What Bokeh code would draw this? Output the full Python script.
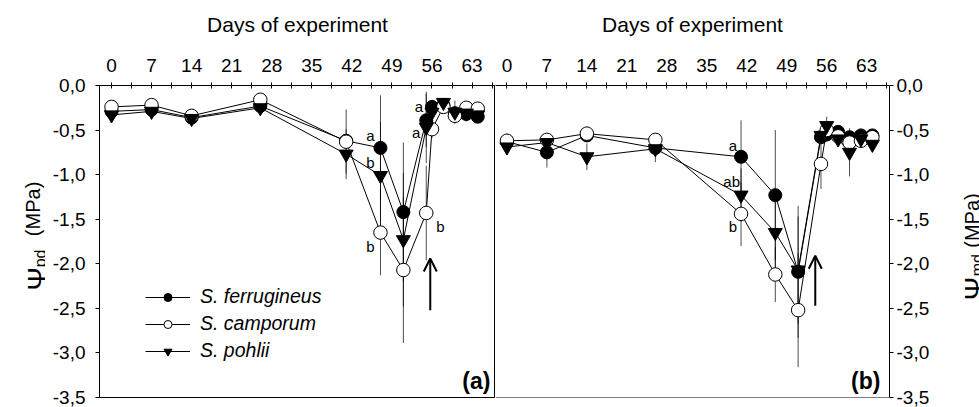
import numpy as np
from bokeh.plotting import figure
from bokeh.layouts import row
from bokeh.core.properties import value
from bokeh.models import (Range1d, FixedTicker, CustomJSTickFormatter, Legend, LegendItem,
                          Label, Arrow, OpenHead, Span)
from bokeh.embed import file_html
from bokeh.resources import INLINE

# ---------------- data ----------------
days = [0, 7, 14, 26, 41, 47, 51, 55, 56, 58, 60, 62, 64]

# pre-dawn water potential (panel a)
ferr_pd = [-0.29, -0.27, -0.36, -0.23, -0.62, -0.70, -1.42, -0.39, -0.24, -0.22, -0.31, -0.32, -0.35]
camp_pd = [-0.24, -0.22, -0.34, -0.16, -0.63, -1.65, -2.07, -1.43, -0.49, -0.24, -0.34, -0.25, -0.26]
pohl_pd = [-0.33, -0.29, -0.37, -0.25, -0.77, -1.01, -1.73, -0.47, -0.30, -0.19, -0.30, -0.31, -0.33]
ferr_pd_err = [0.04, 0.04, 0.03, 0.04, 0.05, 0.59, 0.78, 0.30, 0.08, 0.05, 0.05, 0.04, 0.04]
camp_pd_err = [0.04, 0.05, 0.05, 0.04, 0.36, 0.48, 0.82, 0.53, 0.10, 0.05, 0.06, 0.04, 0.04]
pohl_pd_err = [0.04, 0.08, 0.04, 0.04, 0.28, 0.60, 0.75, 0.40, 0.06, 0.05, 0.13, 0.05, 0.05]

# midday water potential (panel b)
ferr_md = [-0.63, -0.75, -0.56, -0.70, -0.80, -1.23, -2.09, -0.58, -0.55, -0.52, -0.58, -0.56, -0.56]
camp_md = [-0.62, -0.61, -0.54, -0.61, -1.44, -2.12, -2.52, -0.88, -0.50, -0.57, -0.64, -0.62, -0.58]
pohl_md = [-0.69, -0.64, -0.80, -0.71, -1.23, -1.65, -2.07, -0.56, -0.45, -0.60, -0.75, -0.60, -0.66]
ferr_md_err = [0.06, 0.17, 0.05, 0.05, 0.41, 0.73, 0.74, 0.06, 0.05, 0.05, 0.05, 0.05, 0.05]
camp_md_err = [0.08, 0.06, 0.05, 0.05, 0.36, 0.31, 0.64, 0.28, 0.05, 0.06, 0.06, 0.06, 0.05]
pohl_md_err = [0.09, 0.08, 0.15, 0.15, 0.30, 0.40, 0.60, 0.06, 0.10, 0.06, 0.27, 0.06, 0.08]

species = ["S. ferrugineus", "S. camporum", "S. pohlii"]
x_ticks = [0, 7, 14, 21, 28, 35, 42, 49, 56, 63]
x_minor = [3.5, 10.5, 17.5, 24.5, 31.5, 38.5, 45.5, 52.5, 59.5, 66.5]
y_ticks = [0.0, -0.5, -1.0, -1.5, -2.0, -2.5, -3.0, -3.5]

FONT = "Liberation Sans"
INK = "black"


def style_axes(p, side):
    ax = p.xaxis[0]
    ax.ticker = FixedTicker(ticks=x_ticks, minor_ticks=x_minor)
    ax.axis_label = "Days of experiment"
    ax.axis_label_text_font = FONT
    ax.axis_label_text_font_size = "21px"
    ax.axis_label_text_font_style = "normal"
    ax.axis_label_text_color = INK
    ax.axis_label_standoff = 20
    ax.major_label_text_font = FONT
    ax.major_label_text_font_size = "19px"
    ax.major_label_text_color = INK
    ax.major_label_standoff = 11
    ax.major_tick_in = 3
    ax.major_tick_out = 3
    ax.minor_tick_in = 3
    ax.minor_tick_out = 3
    ax.major_tick_line_color = INK
    ax.minor_tick_line_color = INK
    ax.axis_line_color = INK
    ay = p.yaxis[0]
    ay.ticker = FixedTicker(ticks=y_ticks, minor_ticks=[])
    ay.formatter = CustomJSTickFormatter(code="return tick.toFixed(1).replace('.', ',');")
    ay.major_label_text_font = FONT
    ay.major_label_text_font_size = "19px"
    ay.major_label_text_color = INK
    ay.major_label_standoff = 10 if side == "left" else 3
    ay.major_tick_in = 0
    ay.major_tick_out = 4
    ay.minor_tick_in = 0
    ay.minor_tick_out = 0
    ay.major_tick_line_color = INK
    ay.axis_line_color = INK
    p.grid.visible = False


def draw_series(p, y_lists, err_lists):
    rends = []
    fills = ["black", "white", "black"]
    markers = ["circle", "circle", "inverted_triangle"]
    sizes = [13, 13.5, 14]
    for ys, es in zip(y_lists, err_lists):
        lo = [v - e for v, e in zip(ys, es)]
        hi = [v + e for v, e in zip(ys, es)]
        p.segment(x0=days, y0=lo, x1=days, y1=hi, line_color="black", line_width=1, line_alpha=0.7)
    lines = []
    for ys in y_lists:
        lines.append(p.line(days, ys, line_color="black", line_width=1))
    for ys, f, m, s, l in zip(y_lists, fills, markers, sizes, lines):
        sc = p.scatter(days, ys, marker=m, size=s, fill_color=f, line_color="black", line_width=1)
        rends.append([l, sc])
    return rends


def letter(p, txt, x, y, dx, dy, align):
    p.add_layout(Label(x=x, y=y, text=txt, x_offset=dx, y_offset=dy, text_align=align,
                       text_baseline="middle", text_font=FONT, text_font_size="15px",
                       text_color=INK))


def label_strip(width, parts):
    # blank strip whose frame lines up with the panels' frames (same y range and borders);
    # carries a rotated axis title made of several text pieces (Psi, subscript, unit)
    f = figure(width=width, height=407, x_range=Range1d(0, width), y_range=Range1d(-3.5, 0),
               x_axis_type=None, y_axis_type=None, output_backend="svg", toolbar_location=None,
               min_border_left=0, min_border_right=0, min_border_top=85, min_border_bottom=10)
    f.outline_line_color = None
    f.grid.visible = False
    for txt, x, y, size in parts:
        f.text(x=[x], y=[y], text=[txt], angle=np.pi / 2, text_align="left",
               text_baseline="alphabetic", text_font=value(FONT), text_font_size=size,
               text_color=INK)
    return f


# ---------------- panel (a) ----------------
p1 = figure(width=450, height=407, x_range=Range1d(-2.1, 67.1), y_range=Range1d(-3.5, 0),
            x_axis_location="above", y_axis_location="left", output_backend="svg",
            toolbar_location=None, min_border_left=54, min_border_right=0,
            min_border_top=85, min_border_bottom=10)
p1.outline_line_color = "black"
style_axes(p1, "left")
r1 = draw_series(p1, [ferr_pd, camp_pd, pohl_pd], [ferr_pd_err, camp_pd_err, pohl_pd_err])

letter(p1, "a", days[5], ferr_pd[5], -6, 12, "right")
letter(p1, "b", days[5], pohl_pd[5], -6, 13, "right")
letter(p1, "b", days[5], camp_pd[5], -6, -14, "right")
letter(p1, "b", days[7], camp_pd[7], 10, -14, "left")
letter(p1, "a", days[8], ferr_pd[8], -9, 0, "right")
letter(p1, "a", days[7], pohl_pd[7], -6, -5, "right")

p1.add_layout(Arrow(end=OpenHead(size=13, line_width=2, line_color="black"),
                    x_start=55.7, y_start=-2.52, x_end=55.7, y_end=-1.94,
                    line_width=2, line_color="black"))
p1.add_layout(Label(x=66.2, y=-3.31, text="(a)", text_align="right", text_baseline="alphabetic",
                    text_font=FONT, text_font_size="23px", text_font_style="bold",
                    text_color=INK))

legend = Legend(items=[LegendItem(label=s, renderers=r) for s, r in zip(species, r1)],
                location=(46, 35), padding=0, margin=0, spacing=4, glyph_width=45,
                glyph_height=20, label_height=20, label_standoff=10,
                label_text_font=FONT, label_text_font_size="19.5px",
                label_text_font_style="italic", label_text_color=INK,
                border_line_color=None, background_fill_alpha=0)
p1.add_layout(legend)

# ---------------- panel (b) ----------------
p2 = figure(width=459, height=407, x_range=Range1d(-2.0, 67.0), y_range=Range1d(-3.5, 0),
            x_axis_location="above", y_axis_location="right", output_backend="svg",
            toolbar_location=None, min_border_left=0, min_border_right=65,
            min_border_top=85, min_border_bottom=10)
p2.outline_line_color = None
style_axes(p2, "right")
p2.add_layout(Span(location=-3.5, dimension="width", line_color="black", line_width=1))
draw_series(p2, [ferr_md, camp_md, pohl_md], [ferr_md_err, camp_md_err, pohl_md_err])

letter(p2, "a", days[4], ferr_md[4], -4, 11, "right")
letter(p2, "ab", days[4], pohl_md[4], -1, 14, "right")
letter(p2, "b", days[4], camp_md[4], -4, -13, "right")

p2.add_layout(Arrow(end=OpenHead(size=13, line_width=2, line_color="black"),
                    x_start=54.0, y_start=-2.47, x_end=54.0, y_end=-1.91,
                    line_width=2, line_color="black"))
p2.add_layout(Label(x=65.4, y=-3.31, text="(b)", text_align="right", text_baseline="alphabetic",
                    text_font=FONT, text_font_size="23px", text_font_style="bold",
                    text_color=INK))

# ---------------- rotated y-axis titles ----------------
left_title = label_strip(45, [("Ψ", 37, -2.30, "28px"), ("pd", 40, -2.04, "16px"),
                              ("(MPa)", 32, -1.69, "20px")])
right_title = label_strip(25, [("Ψ", 20, -2.41, "28px"), ("md", 23, -2.14, "16px"),
                               ("(MPa)", 17.5, -1.82, "20px")])

layout = row(left_title, p1, p2, right_title, spacing=0)
open("out.html", "w").write(file_html(layout, INLINE))
